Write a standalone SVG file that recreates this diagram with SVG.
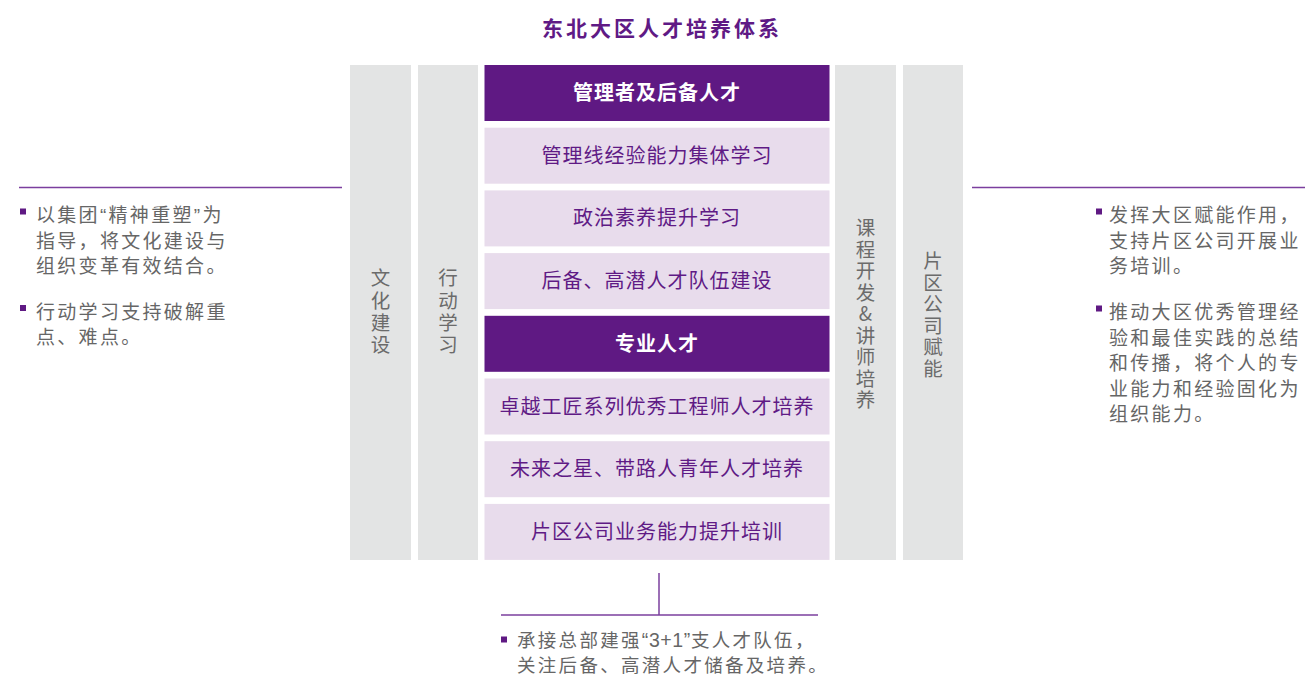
<svg xmlns="http://www.w3.org/2000/svg" width="1305" height="676" viewBox="0 0 1305 676">
<style>
text{font-family:"Noto Sans CJK SC","Noto Sans",sans-serif;}
.title{font-size:21px;font-weight:bold;fill:#5f1a85;letter-spacing:3px;text-anchor:middle;}
.col{fill:#e3e4e4;}
.coltxt{font-size:19.5px;fill:#6b6b6b;text-anchor:middle;writing-mode:vertical-rl;text-orientation:upright;}
.dark{fill:#5f1983;}
.light{fill:#e8dcec;}
.hd{font-size:20px;font-weight:bold;fill:#ffffff;text-anchor:middle;letter-spacing:1px;}
.rt{font-size:20px;fill:#5f1a85;text-anchor:middle;letter-spacing:1px;}
.bt{font-size:19px;fill:#666666;letter-spacing:2.3px;}
.bb{font-size:18.5px;fill:#666666;letter-spacing:2.3px;}
.q{font-family:"Liberation Sans",sans-serif;}
.q2{font-family:"Liberation Sans",sans-serif;font-size:19.5px;letter-spacing:0.6px;}
.sq{fill:#5f1983;}
.ln{stroke:#7b3f9e;stroke-width:1.5;fill:none;}
</style>
<text class="title" x="662" y="36">东北大区人才培养体系</text>

<g id="col-culture">
<rect class="col" x="350" y="65" width="61" height="495"/>
<text class="coltxt" x="380.5" y="312.5" style="letter-spacing:2.6px">文化建设</text>
</g>
<g id="col-action">
<rect class="col" x="418" y="65" width="60" height="495"/>
<text class="coltxt" x="448" y="312.5" style="letter-spacing:2.6px">行动学习</text>
</g>
<g id="col-course">
<rect class="col" x="835" y="65" width="61" height="495"/>
<text class="coltxt" x="865.5" y="315" style="letter-spacing:2px">课程开发&amp;讲师培养</text>
</g>
<g id="col-area">
<rect class="col" x="903" y="65" width="60" height="495"/>
<text class="coltxt" x="933" y="315.5" style="letter-spacing:2px">片区公司赋能</text>
</g>

<g id="row-0"><rect class="dark" x="484.5" y="65" width="345" height="56"/><text class="hd" x="657" y="100">管理者及后备人才</text></g>
<g id="row-1"><rect class="light" x="484.5" y="127.7" width="345" height="56"/><text class="rt" x="657" y="162.7">管理线经验能力集体学习</text></g>
<g id="row-2"><rect class="light" x="484.5" y="190.4" width="345" height="56"/><text class="rt" x="657" y="225.4">政治素养提升学习</text></g>
<g id="row-3"><rect class="light" x="484.5" y="253.1" width="345" height="56"/><text class="rt" x="657" y="288.1">后备、高潜人才队伍建设</text></g>
<g id="row-4"><rect class="dark" x="484.5" y="315.8" width="345" height="56"/><text class="hd" x="657" y="350.8">专业人才</text></g>
<g id="row-5"><rect class="light" x="484.5" y="378.5" width="345" height="56"/><text class="rt" x="657" y="413.5">卓越工匠系列优秀工程师人才培养</text></g>
<g id="row-6"><rect class="light" x="484.5" y="441.2" width="345" height="56"/><text class="rt" x="657" y="476.2">未来之星、带路人青年人才培养</text></g>
<g id="row-7"><rect class="light" x="484.5" y="503.9" width="345" height="56"/><text class="rt" x="657" y="538.9">片区公司业务能力提升培训</text></g>

<g id="connectors">
<line class="ln" x1="19" y1="187.5" x2="342" y2="187.5"/>
<line class="ln" x1="972" y1="187.5" x2="1305" y2="187.5"/>
<line class="ln" x1="659" y1="573" x2="659" y2="615"/>
<line class="ln" x1="501" y1="615" x2="818" y2="615"/>
</g>

<g id="note-left">
<rect class="sq" x="20" y="208.5" width="6" height="6"/>
<text class="bt"><tspan x="36" y="222">以集团<tspan class="q">“</tspan>精神重塑<tspan class="q">”</tspan>为</tspan><tspan x="36" y="247.6">指导，将文化建设与</tspan><tspan x="36" y="273.2">组织变革有效结合。</tspan></text>
<rect class="sq" x="20" y="305" width="6" height="6"/>
<text class="bt"><tspan x="36" y="318.5">行动学习支持破解重</tspan><tspan x="36" y="344.1">点、难点。</tspan></text>
</g>

<g id="note-right">
<rect class="sq" x="1096" y="208.5" width="6" height="6"/>
<text class="bt"><tspan x="1109" y="222">发挥大区赋能作用，</tspan><tspan x="1109" y="247.6">支持片区公司开展业</tspan><tspan x="1109" y="273.2">务培训。</tspan></text>
<rect class="sq" x="1096" y="305.5" width="6" height="6"/>
<text class="bt"><tspan x="1109" y="319">推动大区优秀管理经</tspan><tspan x="1109" y="344.6">验和最佳实践的总结</tspan><tspan x="1109" y="370.2">和传播，将个人的专</tspan><tspan x="1109" y="395.8">业能力和经验固化为</tspan><tspan x="1109" y="421.4">组织能力。</tspan></text>
</g>

<g id="note-bottom">
<rect class="sq" x="501" y="636.5" width="6" height="6"/>
<text class="bb"><tspan x="517" y="647">承接总部建强<tspan class="q2">“3+1”</tspan>支人才队伍，</tspan><tspan x="517" y="672">关注后备、高潜人才储备及培养。</tspan></text>
</g>
</svg>
